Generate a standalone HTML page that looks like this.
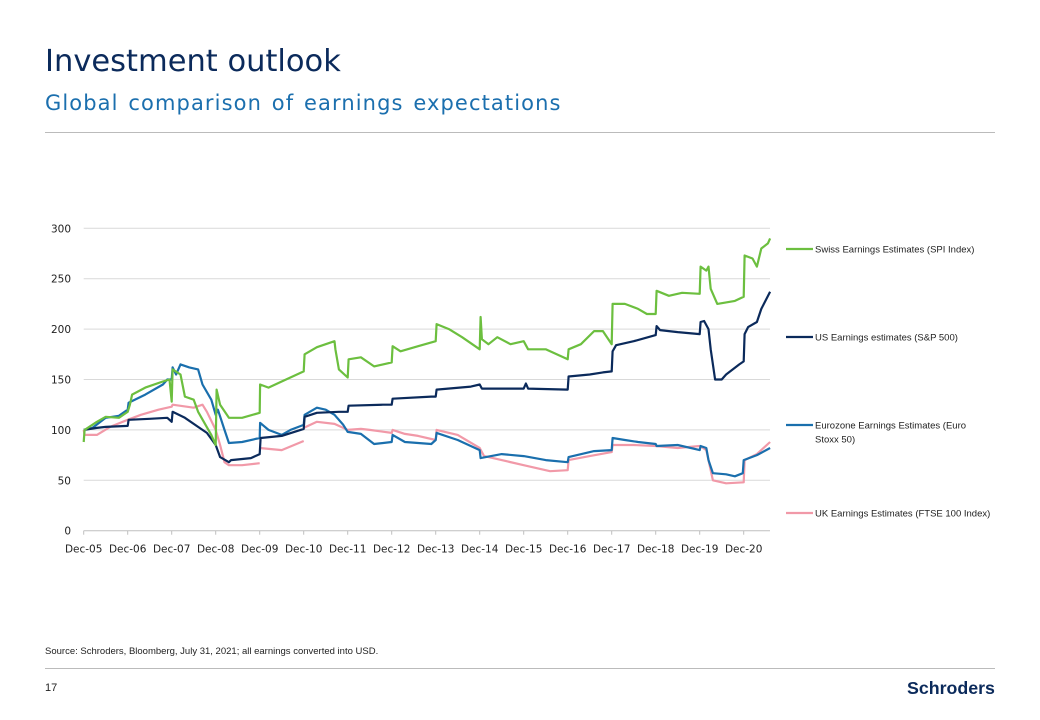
<!DOCTYPE html>
<html><head><meta charset="utf-8"><style>
body{margin:0;width:1040px;height:720px;background:#fff;font-family:"Liberation Sans",sans-serif;position:relative;overflow:hidden}
.t{position:absolute;white-space:nowrap}
</style></head><body>
<div class="t" style="left:45px;top:44px;font-size:30.5px;color:#0b2a5b;font-family:'DejaVu Sans',sans-serif">Investment outlook</div>
<div class="t" style="left:45px;top:91px;font-size:21px;letter-spacing:1.1px;word-spacing:2px;color:#1b6fae;font-family:'DejaVu Sans',sans-serif">Global comparison of earnings expectations</div>
<div style="position:absolute;left:45px;top:132px;width:950px;height:1px;background:#bbb"></div>
<svg id="chart" width="1040" height="720" style="position:absolute;left:0;top:0"></svg>
<div class="t" style="left:45px;top:646px;font-size:9.5px;color:#222">Source: Schroders, Bloomberg, July 31, 2021; all earnings converted into USD.</div>
<div style="position:absolute;left:45px;top:668px;width:950px;height:1px;background:#bbb"></div>
<div class="t" style="left:45px;top:682px;font-size:11px;color:#222">17</div>
<div class="t" style="left:907px;top:678px;font-size:17.8px;font-weight:bold;color:#0b2a5b">Schroders</div>
<script>
const ticksY=[0,50,100,150,200,250,300];
const tickLabelsX=["Dec-05","Dec-06","Dec-07","Dec-08","Dec-09","Dec-10","Dec-11","Dec-12","Dec-13","Dec-14","Dec-15","Dec-16","Dec-17","Dec-18","Dec-19","Dec-20"];
const swissT=[0,0.02,0.3,0.5,0.8,1.0,1.05,1.1,1.4,1.8,1.95,2.0,2.02,2.2,2.3,2.5,2.6,2.9,3.0,3.02,3.1,3.3,3.6,4.0,4.01,4.2,4.5,5.0,5.02,5.3,5.5,5.7,5.72,5.8,6.0,6.02,6.3,6.6,7.0,7.02,7.2,7.6,8.0,8.02,8.3,8.6,9.0,9.02,9.05,9.2,9.4,9.7,10.0,10.1,10.5,11.0,11.02,11.3,11.6,11.8,12.0,12.02,12.3,12.6,12.8,13.0,13.02,13.3,13.6,14.0,14.02,14.15,14.2,14.25,14.4,14.8,15.0,15.02,15.2,15.3,15.4,15.55,15.6];
const swissV=[88,100,108,113,112,118,125,135,142,148,150,128,160,155,133,130,118,95,85,140,125,112,112,117,145,142,148,158,175,182,185,188,180,160,152,170,172,163,167,183,178,183,188,205,200,192,180,212,190,185,192,185,188,180,180,170,180,185,198,198,185,225,225,220,215,215,238,233,236,235,262,258,262,240,225,228,232,273,270,262,280,285,290];
const usT=[0,0.3,0.5,1.0,1.02,1.5,1.9,2.0,2.02,2.3,2.6,2.8,3.0,3.1,3.3,3.35,3.8,3.95,4.0,4.02,4.5,5.0,5.02,5.3,5.8,6.0,6.02,6.8,7.0,7.02,7.9,8.0,8.02,8.8,9.0,9.05,10.0,10.05,10.1,11.0,11.02,11.5,11.8,12.0,12.02,12.1,12.5,13.0,13.02,13.1,13.5,14.0,14.02,14.1,14.2,14.25,14.35,14.5,14.6,14.9,15.0,15.02,15.1,15.3,15.4,15.6];
const usV=[100,102,103,104,110,111,112,108,118,112,103,97,85,73,68,70,72,75,76,92,94,101,113,117,118,118,124,125,125,131,133,133,140,143,145,141,141,146,141,140,153,155,157,158,178,184,188,194,203,199,197,195,207,208,200,180,150,150,155,165,168,195,202,207,220,237];
const euroT=[0,0.2,0.5,0.8,1.0,1.02,1.4,1.8,1.9,2.0,2.02,2.1,2.2,2.4,2.6,2.7,2.9,3.0,3.05,3.2,3.3,3.6,4.0,4.01,4.2,4.5,4.7,5.0,5.02,5.3,5.5,5.7,5.9,6.0,6.3,6.6,7.0,7.02,7.3,7.6,7.9,8.0,8.02,8.5,9.0,9.02,9.5,10.0,10.5,11.0,11.02,11.6,12.0,12.02,12.3,12.6,13.0,13.02,13.5,14.0,14.02,14.15,14.2,14.3,14.6,14.8,14.98,15.0,15.3,15.6];
const euroV=[100,102,112,114,120,127,135,145,150,150,162,155,165,162,160,145,130,115,120,100,87,88,92,107,100,95,100,105,115,122,120,115,105,98,96,86,88,95,88,87,86,90,97,90,80,72,76,74,70,68,73,79,80,92,90,88,86,84,85,80,84,82,70,57,56,54,57,70,75,82];
const ukT=[0,0.02,0.3,0.6,1.0,1.3,1.7,2.0,2.02,2.5,2.7,2.8,3.0,3.1,3.2,3.3,3.6,4.0,null,4.0,4.5,5.0,null,5.0,5.3,5.7,6.0,6.3,6.5,7.0,7.02,7.3,7.6,8.0,8.02,8.5,9.0,9.1,9.5,10.0,10.3,10.6,11.0,11.02,11.5,12.0,12.02,12.5,13.0,13.5,14.0,14.15,14.3,14.6,15.0,15.02,15.3,15.6];
const ukV=[100,95,95,103,110,115,120,123,125,122,125,118,100,85,68,65,65,67,null,82,80,89,null,102,108,106,100,101,100,97,100,96,94,90,100,95,82,74,70,65,62,59,60,70,74,78,85,85,84,82,84,80,50,47,48,70,76,88];
const svg=document.getElementById('chart');const NS='http://www.w3.org/2000/svg';
const x0=83.7,yearW=44.0,y0=530.7,unit=1.008;
const xs=t=>x0+t*yearW, ys=v=>y0-v*unit;
function mk(tag,attrs){const e=document.createElementNS(NS,tag);for(const k in attrs)e.setAttribute(k,attrs[k]);svg.appendChild(e);return e;}
ticksY.forEach(v=>{
 if(v>0){const g=mk('line',{x1:x0,x2:770,y1:ys(v),y2:ys(v),stroke:'#d9d9d9','stroke-width':1});
 
 }
 const l=mk('text',{x:71,y:ys(v)+4,'text-anchor':'end','font-size':10.5,fill:'#222','font-family':'DejaVu Sans, sans-serif'});l.textContent=v;
 
 
});
const ax=mk('line',{x1:x0,x2:770,y1:y0,y2:y0,stroke:'#bfbfbf','stroke-width':1});


tickLabelsX.forEach((s,i)=>{
 const tk=mk('line',{x1:xs(i),x2:xs(i),y1:y0,y2:y0+4,stroke:'#bfbfbf'});
 
 
 const l=mk('text',{x:xs(i),y:y0+22,'text-anchor':'middle','font-size':10.5,fill:'#222','font-family':'DejaVu Sans, sans-serif'});l.textContent=s;
 
 
});
function series(T,V,color,name){
 let d='',start=true;
 T.forEach((t,i)=>{if(t===null||V[i]===null){start=true;return;}d+=(start?'M':'L')+xs(t).toFixed(1)+' '+ys(V[i]).toFixed(1)+' ';start=false;});
 const p=mk('path',{d:d,fill:'none',stroke:color,'stroke-width':2.2,'stroke-linejoin':'round'});
 
 
}
series(ukT,ukV,'#f199a8','uk-earnings-line');
series(euroT,euroV,'#1a6fad','eurozone-earnings-line');
series(usT,usV,'#0b2a5b','us-earnings-line');
series(swissT,swissV,'#6cbf3f','swiss-earnings-line');
const legend=[["Swiss Earnings Estimates (SPI Index)",'#6cbf3f',249],["US Earnings estimates (S&P 500)",'#0b2a5b',337],["Eurozone Earnings Estimates (Euro|Stoxx 50)",'#1a6fad',425],["UK Earnings Estimates (FTSE 100 Index)",'#f199a8',513]];
legend.forEach(([s,c,y])=>{
 const ln=mk('line',{x1:786,x2:813,y1:y,y2:y,stroke:c,'stroke-width':2.2});
 
 
 s.split('|').forEach((p,j)=>{const t=mk('text',{x:815,y:y+3.5+j*14,'font-size':9.5,fill:'#222','font-family':'Liberation Sans, sans-serif'});t.textContent=p;
 
 });
});
</script>
</body></html>
